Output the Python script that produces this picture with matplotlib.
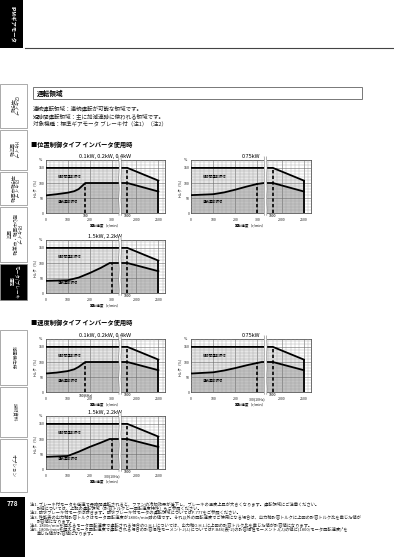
import numpy as np
import matplotlib
matplotlib.use('Agg')
import matplotlib.pyplot as plt
from matplotlib.patches import Rectangle

plt.rcParams['font.family'] = ['Noto Sans CJK JP', 'DejaVu Sans']

W, H, DPI = 394, 557, 100

# ---------------- data ----------------
upper_speed = [0, 1800, 2500]
upper_torque = [150, 150, 108]

pos_small_speed = [0, 50, 100, 130, 150, 165, 180, 1800, 2500]
pos_small_torque = [59, 63, 68, 73, 80, 90, 100, 100, 72]

pos_075_speed = [0, 100, 150, 200, 250, 300, 330, 1800, 2500]
pos_075_torque = [60, 63, 69, 78, 88, 97, 100, 100, 72]

pos_large_speed = [0, 100, 150, 200, 250, 290, 1800, 2500]
pos_large_torque = [41, 43, 52, 67, 84, 100, 100, 73]

spd_small_speed = [0, 50, 100, 130, 150, 165, 180, 1800, 2500]
spd_small_torque = [62, 65, 70, 76, 84, 92, 100, 100, 73]

spd_075_speed = [0, 100, 150, 200, 250, 300, 320, 1800, 2500]
spd_075_torque = [62, 66, 72, 80, 89, 97, 100, 100, 73]

spd_large_speed = [0, 100, 150, 200, 250, 290, 1800, 2500]
spd_large_torque = [41, 44, 58, 74, 88, 100, 100, 74]

tick_values = [0, 100, 200, 300, 2000, 2500]
y_ticks = [0, 50, 100, 150]

titles = ["0.1kW, 0.2kW, 0.4kW", "0.75kW", "1.5kW, 2.2kW"]

# ---------------- broken x scale ----------------
B1, B2, G, K = 335.0, 1650.0, 5.0, 5.0


def fwd(x):
    x = np.asarray(x, float)
    return np.where(x <= B1, x,
                    np.where(x < B2, B1 + (x - B1) * G / (B2 - B1),
                             B1 + G + (x - B2) / K))


def inv(f):
    f = np.asarray(f, float)
    return np.where(f <= B1, f,
                    np.where(f < B1 + G, B1 + (f - B1) * (B2 - B1) / G,
                             B2 + (f - B1 - G) * K))


fig = plt.figure(figsize=(W / DPI, H / DPI), dpi=DPI, facecolor='white')

page = fig.add_axes([0, 0, 1, 1])
page.set_xlim(0, W)
page.set_ylim(H, 0)
page.axis('off')


def rect_px(l, t, r, b):
    return [l / W, 1 - b / H, (r - l) / W, (b - t) / H]


# top tab and rule
page.add_patch(Rectangle((0, 0), 23, 48, facecolor='black', edgecolor='none'))
page.text(11.5, 24, "IPMギアモータ", color='white', fontsize=3.9, fontweight='bold',
          rotation=-90, ha='center', va='center')
page.plot([25, 394], [48.3, 48.3], color='#444444', lw=0.8)

# side tabs
tabs = [("G3タイプ\n平行軸", 84, 128, False),
        ("Hタイプ\n直交軸", 130, 170, False),
        ("F3タイプ\n平行軸中空軸", 172, 205, False),
        ("R3タイプ\n同心中空軸・中実軸\n直交", 207, 262, False),
        ("モータ/ブレーキ\n選定", 264, 300, True),
        ("減速機仕様", 330, 385, False),
        ("技術資料", 387, 437, False),
        ("オプション", 439, 492, False)]
for label, t, b, active in tabs:
    page.add_patch(Rectangle((0, t), 27, b - t,
                             facecolor='black' if active else 'white',
                             edgecolor='#888888', lw=0.5))
    page.text(13.5, (t + b) / 2, label, color='white' if active else '#333333',
              fontsize=3.3, rotation=-90, ha='center', va='center',
              multialignment='center', linespacing=1.1)
page.add_patch(Rectangle((0, 497), 25, 60, facecolor='black', edgecolor='none'))
page.text(12.5, 504, "778", color='white', fontsize=4.8, fontweight='bold',
          ha='center', va='center')

# heading box
page.add_patch(Rectangle((33, 87), 329, 12, facecolor='white', edgecolor='#777777', lw=0.7))
page.text(37, 93, "運転領域", fontsize=4.8, fontweight='bold', ha='left', va='center')
desc = ["連続運転領域：連続運転が可能な領域です。",
        "短時間運転領域：主に加減速時に使われる領域です。",
        "対象機種：標準ギアモータ ブレーキ付（注1）（注2）"]
for i, s in enumerate(desc):
    page.text(33, 108.3 + i * 7.8, s, fontsize=4.0, ha='left', va='center', color='#222222')

page.text(31, 145, "■位置制御タイプ インバータ使用時", fontsize=4.5, fontweight='bold',
          ha='left', va='center')
page.text(31, 322, "■速度制御タイプ インバータ使用時", fontsize=4.5, fontweight='bold',
          ha='left', va='center')

notes = [(30, "注1. ブレーキ付モータを低速で長時間運転されると、ファンの冷却効果が低下し、ブレーキの温度上昇が大きくなります。運転領域にご注意ください。"),
         (37, "詳細については、上記の運転領域（許容トルクと一回転速度特性）もご参照ください。"),
         (30, "注2. 防水ブレーキ付モータは除きます。防水ブレーキ付モータの運転領域についてはP.777をご参照ください。"),
         (30, "注3. 性能表の出力軸許容トルクはモータ回転速度が1800r/min時の値です。それ以外の回転速度でご使用になる場合は、出力軸許容トルクに上図の許容トルク比を乗じた値が"),
         (37, "許容値になります。"),
         (30, "注4. 1800r/minを超えるモータ回転速度で運転される場合のO.H.L.については、出力軸O.H.L.に上図の許容トルク比を乗じた値が許容値になります。"),
         (30, "注5. 1800r/minを超えるモータ回転速度で運転される場合の許容慣性モーメントJ(J\u2097)についてはP.B46[表-2]の許容慣性モーメントJ(J\u2097)の値に(1800/モータ回転速度)²を"),
         (37, "乗じた値が許容値になります。")]
note_y = [504, 508.3, 512.7, 516.7, 520.6, 525, 529, 533]
for (x, s), y in zip(notes, note_y):
    page.text(x, y, s, fontsize=3.05, ha='left', va='center', color='#222222')


def draw_chart(l, t, r, b, title, lo_x, lo_y, base, base_label, base_in_row):
    ax = fig.add_axes(rect_px(l, t, r, b))
    ax.set_xscale('function', functions=(fwd, inv))
    ax.set_xlim(0, 2650)
    ax.set_ylim(0, 176)
    ax.set_facecolor('white')
    ux = list(upper_speed) + [upper_speed[-1], upper_speed[0]]
    uy = list(upper_torque) + [0, 0]
    ax.fill(ux, uy, color='#e6e6e6', lw=0, zorder=0.5)
    lx = list(lo_x) + [lo_x[-1], lo_x[0]]
    ly = list(lo_y) + [0, 0]
    ax.fill(lx, ly, color='#c2c2c2', lw=0, zorder=0.6)
    minor_x = list(range(0, 340, 20)) + list(range(1700, 2700, 100))
    ax.set_xticks(minor_x, minor=True)
    ax.set_yticks(range(0, 180, 10), minor=True)
    ax.set_axisbelow(False)
    ax.grid(which='minor', color='#9a9a9a', lw=0.25)
    ax.grid(which='major', color='#6a6a6a', lw=0.4)
    ax.plot(upper_speed, upper_torque, color='black', lw=1.3, zorder=3,
            solid_joinstyle='miter')
    ax.plot([upper_speed[-1], upper_speed[-1]], [0, upper_torque[-1]], color='black',
            lw=1.3, zorder=3)
    ax.plot(lo_x, lo_y, color='black', lw=1.3, zorder=3)
    ax.plot([base, base], [0, 100], color='black', lw=1.2, ls=(0, (2, 1.4)), zorder=3)
    ax.plot([1800, 1800], [0, 150], color='black', lw=1.2, ls=(0, (2, 1.4)), zorder=3)
    bt = ax.get_xaxis_transform()
    ax.fill([332, 1662, 1662, 332], [-0.04, -0.04, 1.06, 1.06], transform=bt,
            color='white', lw=0, zorder=4, clip_on=False)
    ys = np.linspace(-0.04, 1.06, 12)
    wig = np.array([0, 1, 0, -1] * 3)
    ax.plot(332 + 1.2 * wig, ys, transform=bt, color='#777777', lw=0.4,
            zorder=5, clip_on=False)
    ax.plot(1662 + 6 * wig, ys, transform=bt, color='#777777', lw=0.4,
            zorder=5, clip_on=False)
    labels = [str(v) for v in tick_values]
    if base_in_row:
        labels = [base_label if v == base else lab for v, lab in zip(tick_values, labels)]
    ax.set_xticks(tick_values, labels)
    ax.set_yticks(y_ticks, [str(v) for v in y_ticks])
    ax.tick_params(axis='both', which='both', length=0, labelsize=2.6, colors='#222222')
    ax.tick_params(axis='x', pad=3.6)
    ax.tick_params(axis='y', pad=1.0)
    for s in ax.spines.values():
        s.set_color('#555555')
        s.set_linewidth(0.6)
    ax.text(1800, -0.015, "1800", transform=bt, fontsize=2.5, ha='center', va='top',
            zorder=6)
    if not base_in_row:
        ax.text(base, -0.015, base_label, transform=bt, fontsize=2.5, ha='center',
                va='top', zorder=6)
    ax.set_xlabel("回転速度（r/min）", fontsize=2.6, labelpad=0.8)
    ax.set_ylabel("トルク（%）", fontsize=2.6, labelpad=1.5)
    ax.text(-0.03, 1.0, "%", transform=ax.transAxes, fontsize=2.6, ha='right', va='center')
    ax.set_title(title, fontsize=4.0, pad=1.5)
    ax.text(0.1, 0.69, "短時間運転領域", transform=ax.transAxes, fontsize=2.4,
            ha='left', va='center', zorder=6)
    ax.text(0.1, 0.2 if lo_y[0] < 50 else 0.22, "連続運転領域", transform=ax.transAxes,
            fontsize=2.4, ha='left', va='center', zorder=6)
    return ax


L1, R1 = 45.5, 165.0
L2, R2 = 191.0, 310.5
draw_chart(L1, 160, R1, 213.3, titles[0], pos_small_speed, pos_small_torque, 180, "180", False)
draw_chart(L2, 160, R2, 213.3, titles[1], pos_075_speed, pos_075_torque, 300, "300", True)
draw_chart(L1, 240, R1, 293.3, titles[2], pos_large_speed, pos_large_torque, 300, "300", True)
draw_chart(L1, 339, R1, 392.3, titles[0], spd_small_speed, spd_small_torque, 180, "180(6Hz)", False)
draw_chart(L2, 339, R2, 392.3, titles[1], spd_075_speed, spd_075_torque, 300, "300(10Hz)", True)
draw_chart(L1, 416, R1, 469.3, titles[2], spd_large_speed, spd_large_torque, 300, "300(10Hz)", True)

fig.savefig("out.png", dpi=DPI, facecolor='white')
